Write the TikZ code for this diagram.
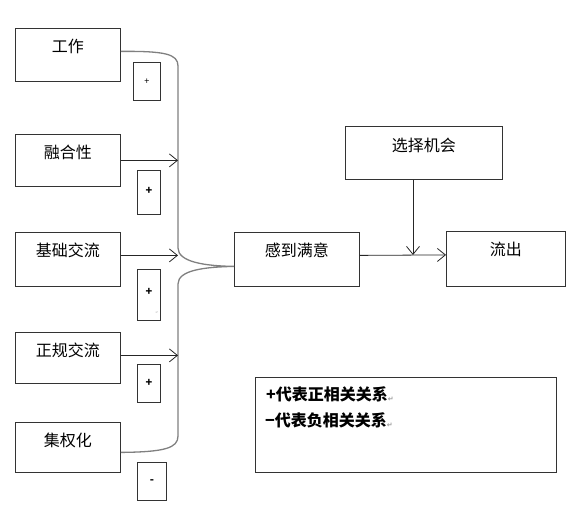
\documentclass[tikz,border=0pt]{standalone}
\usepackage{fontspec}
\setmainfont{Noto Sans CJK SC}
\newfontfamily\symfont{DejaVu Sans}
\usetikzlibrary{arrows.meta}
\begin{document}
\begin{tikzpicture}[x=1pt,y=-1pt,
  box/.style={draw=black!80, line width=0.8pt, inner sep=0pt, anchor=north west,
    font=\fontsize{16}{16}\selectfont, text height=24.5pt},
  signbox/.style={draw=black!80, line width=0.8pt, inner sep=0pt, anchor=north west,
    font=\fontsize{11}{11}\selectfont\bfseries},
  conn/.style={draw=black!85, line width=0.8pt, -{Straight Barb[length=8pt,width=13pt]}},
  bracestyle/.style={draw=black!50, line width=1.3pt},
  legendtext/.style={anchor=base west, inner sep=0pt, font=\fontsize{16}{16}\selectfont\bfseries},
  pmark/.style={text=black!45, inner sep=0pt, font=\symfont\fontsize{6}{6}\selectfont}]
\useasboundingbox (0,0) rectangle (573,510);

% left boxes
\node[box, minimum width=105pt, minimum height=53pt, text depth=28.5pt] (w1) at (15,28) {工作};
\node[box, minimum width=105pt, minimum height=52pt, text depth=27.5pt] (w2) at (15,134) {融合性};
\node[box, minimum width=105pt, minimum height=54pt, text depth=29.5pt] (w3) at (15,232) {基础交流};
\node[box, minimum width=105pt, minimum height=51pt, text depth=26.5pt] (w4) at (15,332) {正规交流};
\node[box, minimum width=105pt, minimum height=50pt, text depth=25.5pt] (w5) at (15,422) {集权化};

% sign boxes
\node[signbox, minimum width=27pt, minimum height=38pt, font=\fontsize{9}{9}\selectfont] (s1) at (133,62) {+};
\node[signbox, minimum width=23pt, minimum height=44pt] (s2) at (137,170) {\raisebox{3pt}{+}};
\node[signbox, minimum width=23pt, minimum height=51pt] (s3) at (137,269) {\raisebox{6pt}{+}};
\node[pmark, font=\symfont\fontsize{3}{3}\selectfont] (pm0) at (157,313) {↵};
\node[signbox, minimum width=23pt, minimum height=38pt] (s4) at (137,364) {+};
\node[signbox, minimum width=29pt, minimum height=38pt] (s5) at (137,462) {-};

% middle and right boxes
\node[box, minimum width=125pt, minimum height=54pt, text depth=29.5pt] (sat) at (234,232) {感到满意};
\node[box, minimum width=157pt, minimum height=53pt, text depth=27pt] (opp) at (345,126) {选择机会};
\node[box, minimum width=119pt, minimum height=55pt, text depth=30.5pt] (out) at (446,231) {流出};

% brace
\coordinate (bx) at (178,0);
\draw[bracestyle] ([yshift=3.5pt]w1.east) .. controls (165,51) and (178,54) .. (178,66)
  -- (178,248) .. controls (178,262) and (205,266) .. ([yshift=-7pt]sat.west)
  .. controls (205,267) and (178,270) .. (178,284)
  -- (178,436) .. controls (178,448) and (165,452) .. ([yshift=-5pt]w5.east);

% arrows into brace
\draw[conn] (w2.east) -- (w2.east -| bx);
\draw[conn] ([yshift=4pt]w3.east) -- ([yshift=4pt]w3.east -| bx);
\draw[conn] ([yshift=2.5pt]w4.east) -- ([yshift=2.5pt]w4.east -| bx);

% satisfaction to outflow
\coordinate (j) at (413,255);
\draw[conn] ([yshift=4pt]sat.east) -- ([yshift=4pt]out.west);
\draw[conn] (opp.south -| j) -- (j);

% legend
\node[draw=black!80, line width=0.8pt, anchor=north west, inner sep=0pt,
  minimum width=301pt, minimum height=95pt] (leg) at (255,377) {};
\node[legendtext] (l1) at (266,401) {+代表正相关关系\raisebox{-1pt}{\color{black!40}\symfont\fontsize{7}{7}\selectfont ↵}};
\node[legendtext] (l2) at (265,427) {−代表负相关关系\raisebox{-1pt}{\color{black!40}\symfont\fontsize{7}{7}\selectfont ↵}};
\end{tikzpicture}
\end{document}
